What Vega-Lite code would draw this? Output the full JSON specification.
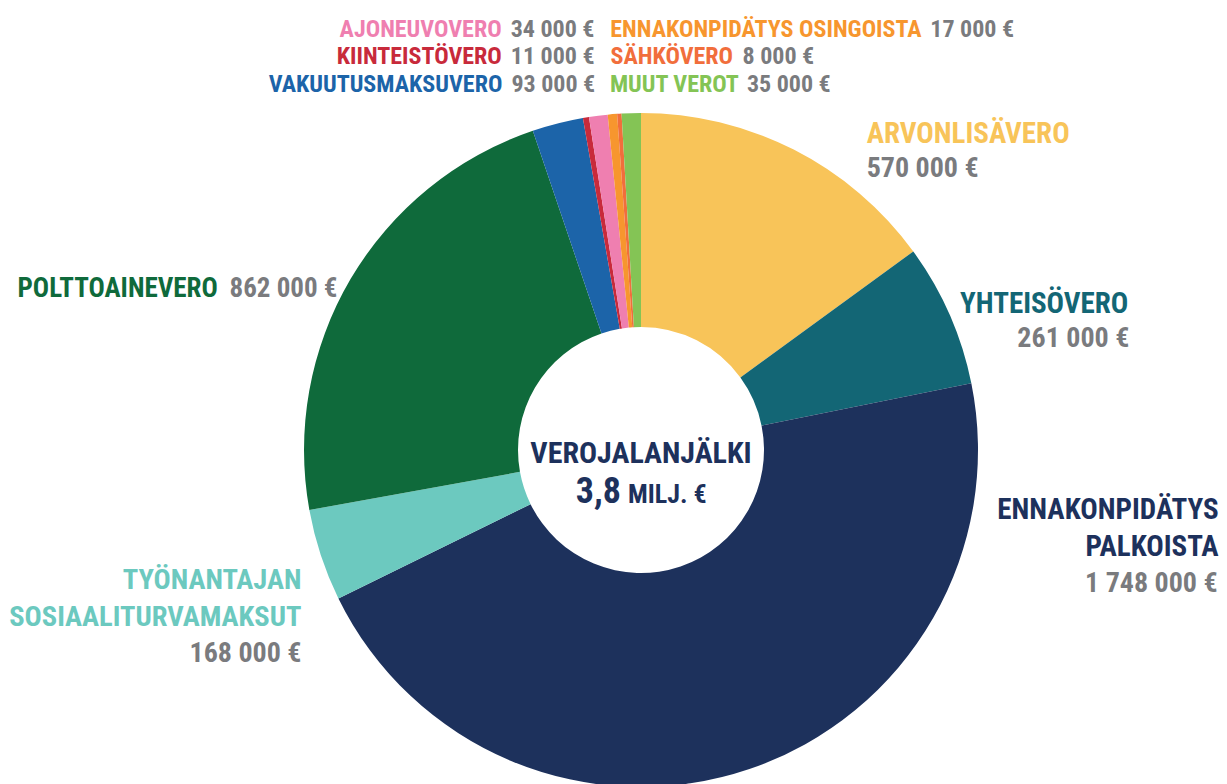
{
  "$schema": "https://vega.github.io/schema/vega-lite/v6.json",
  "width": 1172,
  "height": 668,
  "autosize": {"type": "none"},
  "padding": {"left": 55, "top": 116, "right": 0, "bottom": 0},
  "background": "white",
  "config": {"view": {"stroke": null}, "text": {"font": "Liberation Sans Narrow, Roboto Condensed, DejaVu Sans Condensed, sans-serif", "fontWeight": "bold", "baseline": "alphabetic"}},
  "data": {"values": [
    {"n": 1, "name": "ARVONLISÄVERO", "value": 570000, "amount": "570 000 €"},
    {"n": 2, "name": "YHTEISÖVERO", "value": 261000, "amount": "261 000 €"},
    {"n": 3, "name": "ENNAKONPIDÄTYS\nPALKOISTA", "value": 1748000, "amount": "1 748 000 €"},
    {"n": 4, "name": "TYÖNANTAJAN\nSOSIAALITURVAMAKSUT", "value": 168000, "amount": "168 000 €"},
    {"n": 5, "name": "POLTTOAINEVERO", "value": 862000, "amount": "862 000 €"},
    {"n": 6, "name": "VAKUUTUSMAKSUVERO", "value": 93000, "amount": "93 000 €"},
    {"n": 7, "name": "KIINTEISTÖVERO", "value": 11000, "amount": "11 000 €"},
    {"n": 8, "name": "AJONEUVOVERO", "value": 34000, "amount": "34 000 €"},
    {"n": 9, "name": "ENNAKONPIDÄTYS OSINGOISTA", "value": 17000, "amount": "17 000 €"},
    {"n": 10, "name": "SÄHKÖVERO", "value": 8000, "amount": "8 000 €"},
    {"n": 11, "name": "MUUT VEROT", "value": 35000, "amount": "35 000 €"}
  ]},
  "encoding": {
    "theta": {"field": "value", "type": "quantitative", "stack": true},
    "order": {"field": "n", "type": "quantitative"}
  },
  "layer": [
    {"mark": {"type": "arc", "outerRadius": 337, "innerRadius": 123},
     "encoding": {"color": {"field": "name", "type": "nominal", "legend": null,
       "scale": {"domain": ["ARVONLISÄVERO", "YHTEISÖVERO", "ENNAKONPIDÄTYS\nPALKOISTA", "TYÖNANTAJAN\nSOSIAALITURVAMAKSUT", "POLTTOAINEVERO", "VAKUUTUSMAKSUVERO", "KIINTEISTÖVERO", "AJONEUVOVERO", "ENNAKONPIDÄTYS OSINGOISTA", "SÄHKÖVERO", "MUUT VEROT"],
                 "range": ["#F8C459", "#136675", "#1D315C", "#6CC9BF", "#0F6A3B", "#1C64A9", "#C82A3B", "#EF7FB0", "#F7962E", "#F16E3C", "#84C455"]}}}},

    {"mark": {"type": "text", "radius": 350, "align": "left", "dx": 67, "dy": 5, "fontSize": 29, "fill": "#F8C459"},
     "encoding": {"text": {"condition": {"test": "datum.n === 1", "field": "name"}, "value": ""}}},
    {"mark": {"type": "text", "radius": 350, "align": "left", "dx": 67, "dy": 39, "fontSize": 28, "fill": "#7A7B7E"},
     "encoding": {"text": {"condition": {"test": "datum.n === 1", "field": "amount"}, "value": ""}}},

    {"mark": {"type": "text", "radius": 350, "align": "right", "dx": 167, "dy": 4, "fontSize": 29, "fill": "#136675"},
     "encoding": {"text": {"condition": {"test": "datum.n === 2", "field": "name"}, "value": ""}}},
    {"mark": {"type": "text", "radius": 350, "align": "right", "dx": 168, "dy": 38, "fontSize": 28, "fill": "#7A7B7E"},
     "encoding": {"text": {"condition": {"test": "datum.n === 2", "field": "amount"}, "value": ""}}},

    {"mark": {"type": "text", "radius": 350, "align": "right", "dx": 465, "dy": -262, "fontSize": 29, "lineBreak": "\n", "lineHeight": 37, "fill": "#1D315C"},
     "encoding": {"text": {"condition": {"test": "datum.n === 3", "field": "name"}, "value": ""}}},
    {"mark": {"type": "text", "radius": 350, "align": "right", "dx": 464, "dy": -189, "fontSize": 28, "fill": "#7A7B7E"},
     "encoding": {"text": {"condition": {"test": "datum.n === 3", "field": "amount"}, "value": ""}}},

    {"mark": {"type": "text", "radius": 350, "align": "right", "dx": -7, "dy": 30, "fontSize": 28.5, "lineBreak": "\n", "lineHeight": 37, "fill": "#6CC9BF"},
     "encoding": {"text": {"condition": {"test": "datum.n === 4", "field": "name"}, "value": ""}}},
    {"mark": {"type": "text", "radius": 350, "align": "right", "dx": -7, "dy": 103, "fontSize": 28, "fill": "#7A7B7E"},
     "encoding": {"text": {"condition": {"test": "datum.n === 4", "field": "amount"}, "value": ""}}},

    {"mark": {"type": "text", "radius": 350, "align": "left", "dx": -322, "dy": 25, "fontSize": 27, "fill": "#0F6A3B"},
     "encoding": {"text": {"condition": {"test": "datum.n === 5", "field": "name"}, "value": ""}}},
    {"mark": {"type": "text", "radius": 350, "align": "right", "dx": -2, "dy": 25, "fontSize": 27, "fill": "#7A7B7E"},
     "encoding": {"text": {"condition": {"test": "datum.n === 5", "field": "amount"}, "value": ""}}},

    {"mark": {"type": "text", "radius": 350, "align": "right", "dx": -52, "dy": -19, "fontSize": 24, "fill": "#1C64A9"},
     "encoding": {"text": {"condition": {"test": "datum.n === 6", "field": "name"}, "value": ""}}},
    {"mark": {"type": "text", "radius": 350, "align": "left", "dx": -43, "dy": -19, "fontSize": 24, "fill": "#7A7B7E"},
     "encoding": {"text": {"condition": {"test": "datum.n === 6", "field": "amount"}, "value": ""}}},

    {"mark": {"type": "text", "radius": 350, "align": "right", "dx": -82, "dy": -41, "fontSize": 24, "fill": "#C82A3B"},
     "encoding": {"text": {"condition": {"test": "datum.n === 7", "field": "name"}, "value": ""}}},
    {"mark": {"type": "text", "radius": 350, "align": "left", "dx": -73, "dy": -41, "fontSize": 24, "fill": "#7A7B7E"},
     "encoding": {"text": {"condition": {"test": "datum.n === 7", "field": "amount"}, "value": ""}}},

    {"mark": {"type": "text", "radius": 350, "align": "right", "dx": -95, "dy": -66, "fontSize": 24, "fill": "#EF7FB0"},
     "encoding": {"text": {"condition": {"test": "datum.n === 8", "field": "name"}, "value": ""}}},
    {"mark": {"type": "text", "radius": 350, "align": "left", "dx": -86, "dy": -66, "fontSize": 24, "fill": "#7A7B7E"},
     "encoding": {"text": {"condition": {"test": "datum.n === 8", "field": "amount"}, "value": ""}}},

    {"mark": {"type": "text", "radius": 350, "align": "left", "dx": -1, "dy": -64, "fontSize": 24, "fill": "#F7962E"},
     "encoding": {"text": {"condition": {"test": "datum.n === 9", "field": "name"}, "value": ""}}},
    {"mark": {"type": "text", "radius": 350, "align": "left", "dx": 319, "dy": -64, "fontSize": 24, "fill": "#7A7B7E"},
     "encoding": {"text": {"condition": {"test": "datum.n === 9", "field": "amount"}, "value": ""}}},

    {"mark": {"type": "text", "radius": 350, "align": "left", "dx": -8, "dy": -37, "fontSize": 24, "fill": "#F16E3C"},
     "encoding": {"text": {"condition": {"test": "datum.n === 10", "field": "name"}, "value": ""}}},
    {"mark": {"type": "text", "radius": 350, "align": "left", "dx": 124, "dy": -37, "fontSize": 24, "fill": "#7A7B7E"},
     "encoding": {"text": {"condition": {"test": "datum.n === 10", "field": "amount"}, "value": ""}}},

    {"mark": {"type": "text", "radius": 350, "align": "left", "dx": -21, "dy": -8, "fontSize": 24, "fill": "#84C455"},
     "encoding": {"text": {"condition": {"test": "datum.n === 11", "field": "name"}, "value": ""}}},
    {"mark": {"type": "text", "radius": 350, "align": "left", "dx": 116, "dy": -8, "fontSize": 24, "fill": "#7A7B7E"},
     "encoding": {"text": {"condition": {"test": "datum.n === 11", "field": "amount"}, "value": ""}}},

    {"mark": {"type": "text", "radius": 0, "align": "center", "dx": 0, "dy": 13, "fontSize": 30, "fill": "#1D315C"},
     "encoding": {"text": {"condition": {"test": "datum.n === 1", "value": "VEROJALANJÄLKI"}, "value": ""}}},
    {"mark": {"type": "text", "radius": 0, "align": "right", "dx": -20, "dy": 53, "fontSize": 36, "fill": "#1D315C"},
     "encoding": {"text": {"condition": {"test": "datum.n === 1", "value": "3,8"}, "value": ""}}},
    {"mark": {"type": "text", "radius": 0, "align": "left", "dx": -13, "dy": 53, "fontSize": 26, "fill": "#1D315C"},
     "encoding": {"text": {"condition": {"test": "datum.n === 1", "value": "MILJ. €"}, "value": ""}}}
  ]
}
